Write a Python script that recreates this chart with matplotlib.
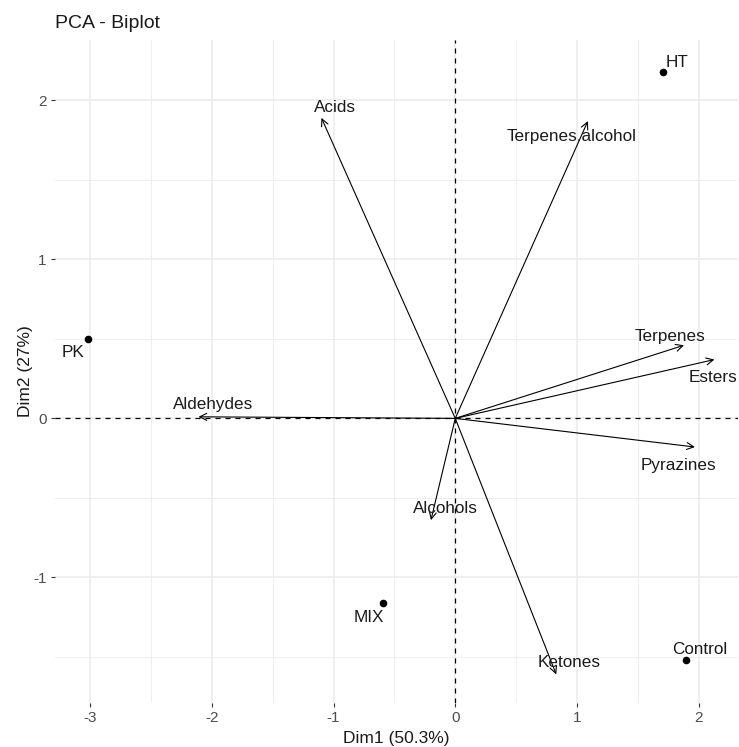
import matplotlib
matplotlib.use("Agg")
import matplotlib.pyplot as plt
from matplotlib.ticker import MultipleLocator

plt.rcParams['font.family'] = ['Liberation Sans', 'DejaVu Sans']
plt.rcParams['axes.unicode_minus'] = False

# Individuals (samples) coordinates on the first two dimensions
samples = ["HT", "PK", "MIX", "Control"]
sample_dim1 = [1.71, -3.02, -0.59, 1.90]
sample_dim2 = [2.18, 0.50, -1.16, -1.52]

# Variable loadings (arrows)
variables = ["Acids", "Terpenes.alcohol", "Terpenes", "Esters", "Pyrazines",
             "Aldehydes", "Alcohols", "Ketones"]
var_dim1 = [-1.10, 1.09, 1.88, 2.13, 1.97, -2.11, -0.20, 0.83]
var_dim2 = [1.89, 1.87, 0.46, 0.37, -0.18, 0.01, -0.64, -1.61]

x_ticks = [-3, -2, -1, 0, 1, 2]
y_ticks = [-1, 0, 1, 2]

# label offsets in pixels from the anchor point (dx, dy)
sample_offsets = [(14, 9), (-15, -14), (-15, -15), (13, 11)]
var_offsets = [(14, 10), (-16, -15), (-14, 9), (-1, -18), (-17, -18),
               (15, 12), (14, 12), (13, 12)]

fig = plt.figure(figsize=(7.39, 7.47), dpi=100)
ax = fig.add_axes([0.0744, 0.0589, 0.9236, 0.8876])

ax.set_xlim(-3.29, 2.32)
ax.set_ylim(-1.79, 2.38)

ax.xaxis.set_minor_locator(MultipleLocator(0.5))
ax.yaxis.set_minor_locator(MultipleLocator(0.5))
ax.set_xticks(x_ticks)
ax.set_yticks(y_ticks)
ax.grid(which='major', color='#EBEBEB', lw=1.1)
ax.grid(which='minor', color='#EBEBEB', lw=0.6)
ax.set_axisbelow(True)
for s in ax.spines.values():
    s.set_visible(False)
ax.tick_params(which='major', length=3, width=0.8, color='#333333',
               labelcolor='#4D4D4D', labelsize=11, pad=3)
ax.tick_params(which='minor', length=0)

ax.axhline(0, color='black', lw=0.9, ls=(0, (4, 4)), zorder=1)
ax.axvline(0, color='black', lw=0.9, ls=(0, (4, 4)), zorder=1)

for name, x, y, (dx, dy) in zip(variables, var_dim1, var_dim2, var_offsets):
    ax.annotate("", xy=(x, y), xytext=(0, 0),
                arrowprops=dict(arrowstyle='->,head_length=0.5,head_width=0.25',
                                color='black', lw=0.8, shrinkA=0, shrinkB=0),
                zorder=3)
    ax.annotate(name, xy=(x, y), xytext=(dx, dy), textcoords='offset pixels',
                ha='center', va='center', fontsize=12.3, color='#1A1A1A', zorder=4)

ax.scatter(sample_dim1, sample_dim2, s=20, color='black', zorder=5)
for name, x, y, (dx, dy) in zip(samples, sample_dim1, sample_dim2, sample_offsets):
    ax.annotate(name, xy=(x, y), xytext=(dx, dy), textcoords='offset pixels',
                ha='center', va='center', fontsize=12.3, color='#1A1A1A', zorder=4)

ax.set_xlabel("Dim1 (50.3%)", fontsize=12.5, color='#1A1A1A', labelpad=4)
ax.set_ylabel("Dim2 (27%)", fontsize=12.5, color='#1A1A1A', labelpad=0)
fig.text(0.0744, 0.968, "PCA - Biplot", fontsize=14, color='#1A1A1A',
         ha='left', va='center')

fig.savefig("out.png", dpi=100)
